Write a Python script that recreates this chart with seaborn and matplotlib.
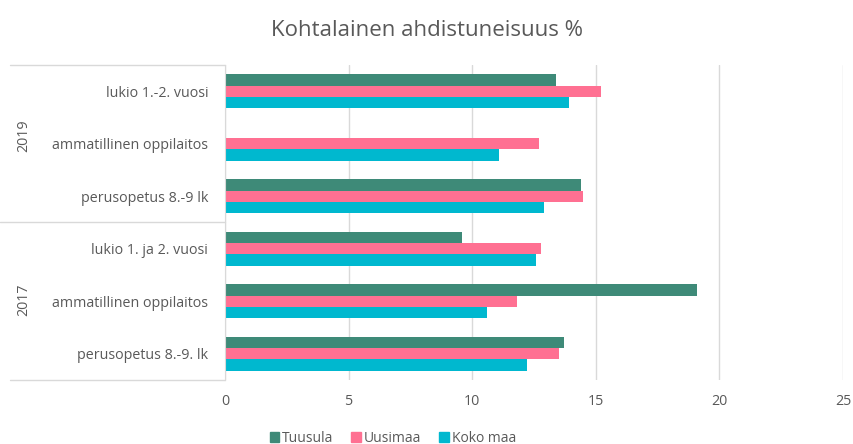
import pandas as pd
import numpy as np
import matplotlib.pyplot as plt
import seaborn as sns
from matplotlib.lines import Line2D

# categories from top to bottom
years = ["2019", "2019", "2019", "2017", "2017", "2017"]
categories = ["lukio 1.-2. vuosi", "ammatillinen oppilaitos", "perusopetus 8.-9 lk",
              "lukio 1. ja 2. vuosi", "ammatillinen oppilaitos", "perusopetus 8.-9. lk"]
series = ["Tuusula", "Uusimaa", "Koko maa"]
tuusula = [13.4, np.nan, 14.4, 9.6, 19.1, 13.7]
uusimaa = [15.2, 12.7, 14.5, 12.8, 11.8, 13.5]
koko_maa = [13.9, 11.1, 12.9, 12.6, 10.6, 12.2]
xticks = [0, 5, 10, 15, 20, 25]

colors = ["#3e8a78", "#ff7092", "#00b8cf"]
text_col = "#595959"
line_col = "#d9d9d9"

keys = [f"{y} {c}" for y, c in zip(years, categories)]
df = pd.DataFrame({"kategoria": keys * 3,
                   "sarja": np.repeat(series, len(keys)),
                   "arvo": tuusula + uusimaa + koko_maa})

sns.set_style("white")
plt.rcParams["font.family"] = ["Open Sans", "DejaVu Sans"]

fig = plt.figure(figsize=(8.54, 4.44), dpi=100)
ax = fig.add_axes([225 / 854, 1 - 380 / 444, 618 / 854, 315 / 444])

sns.barplot(data=df, y="kategoria", x="arvo", hue="sarja", order=keys,
            hue_order=series, palette=colors, orient="h", width=0.64,
            saturation=1, linewidth=0, ax=ax, legend=True)

ax.set_xlim(0, 25)
ax.set_xticks(xticks)
ax.set_xticklabels([str(t) for t in xticks])
ax.set_yticks(range(len(categories)))
ax.set_yticklabels(categories)
ax.set_ylim(len(categories) - 0.5, -0.5)
ax.xaxis.grid(True, color=line_col, linewidth=1)
ax.set_axisbelow(True)
ax.set_xlabel("")
ax.set_ylabel("")
for s in ["top", "right", "bottom"]:
    ax.spines[s].set_visible(False)
ax.spines["left"].set_color(line_col)
ax.tick_params(axis="both", length=0, colors=text_col, labelsize=10.3)
ax.tick_params(axis="x", pad=10)
ax.tick_params(axis="y", pad=12)

# year group labels and separators
fig.text(0.028, 1 - 136 / 444, "2019", rotation=90, ha="center", va="center",
         color=text_col, fontsize=10.3)
fig.text(0.028, 1 - 300 / 444, "2017", rotation=90, ha="center", va="center",
         color=text_col, fontsize=10.3)
for y, x0 in [(65, 10), (222, 0), (380, 10)]:
    fig.add_artist(Line2D([x0 / 854, 225 / 854], [1 - y / 444, 1 - y / 444],
                          color=line_col, linewidth=1))

ax.legend_.remove()
handles = [plt.Rectangle((0, 0), 1, 1, color=c) for c in colors]
fig.legend(handles, series, loc="center", bbox_to_anchor=(0.46, 0.013),
           ncol=3, frameon=False, fontsize=10, labelcolor=text_col,
           handlelength=0.7, handleheight=0.7, handletextpad=0.2, columnspacing=1.3)

fig.suptitle("Kohtalainen ahdistuneisuus %", y=0.955, fontsize=16, color=text_col)

fig.savefig("out.png", dpi=100, facecolor="white")
